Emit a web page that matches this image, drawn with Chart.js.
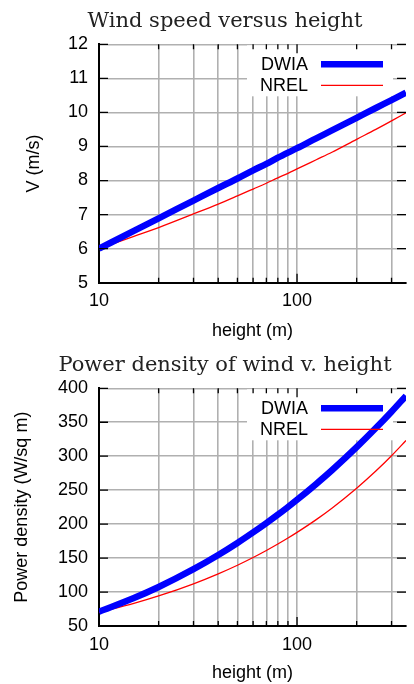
<!DOCTYPE html>
<html>
<head>
<meta charset="utf-8">
<script src="https://cdn.jsdelivr.net/npm/chart.js@4.4.0/dist/chart.umd.min.js"></script>
<style>
  html, body { margin: 0; padding: 0; background: #fff; }
  .box { position: relative; width: 414px; height: 342px; }
</style>
</head>
<body>
<div class="box"><canvas id="speed"></canvas></div>
<div class="box"><canvas id="power"></canvas></div>
<script>
// heights (m)
var heights = [10, 15, 20, 30, 40, 50, 60, 70, 80, 90, 100, 125, 150, 200, 250, 300, 355];

// wind speed (m/s)
var speedDWIA = [6.00, 6.52, 6.89, 7.41, 7.78, 8.06, 8.30, 8.49, 8.67, 8.82, 8.95, 9.24, 9.47, 9.84, 10.13, 10.36, 10.58];
var speedNREL = [6.00, 6.36, 6.62, 7.02, 7.31, 7.55, 7.75, 7.92, 8.08, 8.21, 8.34, 8.61, 8.83, 9.21, 9.50, 9.75, 9.99];

// power density (W/sq m)
var powerDWIA = [71.0, 91.1, 107.4, 133.7, 154.6, 172.3, 187.8, 201.5, 213.9, 225.3, 235.8, 259.2, 279.3, 313.3, 341.4, 365.5, 388.9];
var powerNREL = [70.0, 83.3, 94.2, 112.1, 126.8, 139.5, 150.9, 161.2, 170.7, 179.5, 187.8, 206.6, 223.4, 252.8, 278.1, 300.7, 323.1];

var seriesNames = ['DWIA', 'NREL'];
var heightTicks = [10, 20, 30, 40, 50, 60, 70, 80, 90, 100, 200, 300];
var heightLabels = [10, 100];

function pairs(xs, ys) {
    return xs.map(function (x, i) { return {x: x, y: ys[i]}; });
}

// gnuplot style title, centred over the plot
var headingPlugin = {
    id: 'heading',
    afterDraw: function (chart, args, opts) {
        var c = chart.ctx;
        c.save();
        c.font = '21px "DejaVu Serif"';
        c.fillStyle = '#222';
        c.textAlign = 'center';
        c.textBaseline = 'alphabetic';
        c.fillText(opts.text, 225, opts.y);
        c.restore();
    }
};

// key in the top right corner: label, then line sample
var keyPlugin = {
    id: 'key',
    beforeDatasetsDraw: function (chart) {
        var a = chart.chartArea;
        chart.ctx.save();
        chart.ctx.fillStyle = '#fff';
        chart.ctx.fillRect(a.right - 159, a.top + 1, 146, 51);
        chart.ctx.restore();
    },
    afterDraw: function (chart) {
        var a = chart.chartArea;
        var c = chart.ctx;
        c.save();
        c.font = '18px "Liberation Sans"';
        c.fillStyle = '#000';
        c.textAlign = 'right';
        c.textBaseline = 'middle';
        chart.data.datasets.forEach(function (ds, i) {
            var y = a.top + 20 + i * 21;
            c.fillText(ds.label, a.right - 98, y + 1);
            c.strokeStyle = ds.borderColor;
            c.lineWidth = ds.borderWidth;
            c.beginPath();
            c.moveTo(a.right - 85, y);
            c.lineTo(a.right - 23, y);
            c.stroke();
        });
        c.restore();
    }
};

// tick marks pointing into the plot, on all four sides
var innerTicks = {
    id: 'innerTicks',
    afterDraw: function (chart) {
        var a = chart.chartArea;
        var c = chart.ctx;
        var xs = chart.scales.x, ys = chart.scales.y;
        c.save();
        c.strokeStyle = '#000';
        c.lineWidth = 1.3;
        c.beginPath();
        ys.ticks.forEach(function (t) {
            var y = ys.getPixelForValue(t.value);
            c.moveTo(a.left, y); c.lineTo(a.left + 9, y);
            c.moveTo(a.right, y); c.lineTo(a.right - 9, y);
        });
        xs.ticks.forEach(function (t) {
            var x = xs.getPixelForValue(t.value);
            var len = heightLabels.indexOf(t.value) >= 0 ? 9 : 5;
            c.moveTo(x, a.bottom); c.lineTo(x, a.bottom - len);
            c.moveTo(x, a.top); c.lineTo(x, a.top + len);
        });
        c.stroke();
        c.restore();
    }
};

function makeChart(id, title, titleY, top, xHeight, dwia, nrel, yTitle, yTitlePad, yMin, yMax, yStep) {
    return new Chart(document.getElementById(id), {
        type: 'line',
        data: {
            datasets: [{
                label: seriesNames[0],
                data: pairs(heights, dwia),
                borderColor: '#0000ff',
                borderWidth: 6.5,
                pointRadius: 0,
                cubicInterpolationMode: 'monotone',
                fill: false
            }, {
                label: seriesNames[1],
                data: pairs(heights, nrel),
                borderColor: '#ff0000',
                borderWidth: 1.3,
                pointRadius: 0,
                cubicInterpolationMode: 'monotone',
                fill: false
            }]
        },
        plugins: [headingPlugin, keyPlugin, innerTicks],
        options: {
            responsive: true,
            maintainAspectRatio: false,
            animation: false,
            layout: { padding: { top: top, right: 8, left: 0, bottom: 0 } },
            plugins: {
                legend: { display: false },
                tooltip: { enabled: false },
                heading: { text: title, y: titleY }
            },
            scales: {
                x: {
                    type: 'logarithmic',
                    min: 10,
                    max: 355,
                    afterFit: function (s) { s.height = xHeight; },
                    afterBuildTicks: function (s) {
                        s.ticks = heightTicks.map(function (v) { return {value: v}; });
                    },
                    grid: { color: '#b0b0b0', lineWidth: 1.6, drawTicks: false },
                    border: { color: '#000', width: 2 },
                    ticks: {
                        autoSkip: false,
                        maxRotation: 0,
                        padding: 8,
                        color: '#000',
                        font: { family: 'Liberation Sans', size: 18 },
                        callback: function (v) { return heightLabels.indexOf(v) >= 0 ? String(v) : ''; }
                    },
                    title: {
                        display: true,
                        text: 'height (m)',
                        color: '#000',
                        font: { family: 'Liberation Sans', size: 18 },
                        padding: 0
                    }
                },
                y: {
                    min: yMin,
                    max: yMax,
                    afterFit: function (s) { s.width = 99; },
                    grid: { color: '#b0b0b0', lineWidth: 1.6, drawTicks: false },
                    border: { color: '#000', width: 2 },
                    ticks: {
                        stepSize: yStep,
                        padding: 11,
                        color: '#000',
                        font: { family: 'Liberation Sans', size: 18 }
                    },
                    title: {
                        display: true,
                        text: yTitle,
                        color: '#000',
                        font: { family: 'Liberation Sans', size: 18 },
                        padding: yTitlePad
                    }
                }
            }
        }
    });
}

makeChart('speed', 'Wind speed versus height', 26.5, 44.3, 59.3,
    speedDWIA, speedNREL, 'V (m/s)', 23, 5, 12, 1);
makeChart('power', 'Power density of wind v. height', 28.7, 46.3, 58,
    powerDWIA, powerNREL, 'Power density (W/sq m)', 11.5, 50, 400, 50);
</script>
</body>
</html>
